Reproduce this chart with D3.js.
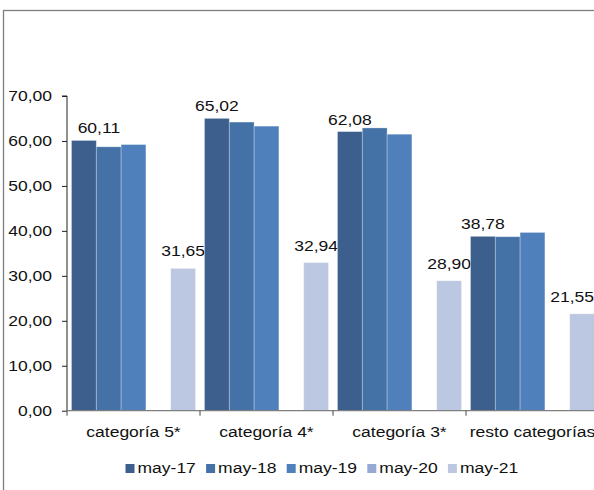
<!DOCTYPE html>
<html>
<head>
<meta charset="utf-8">
<script src="https://cdn.jsdelivr.net/npm/d3@7"></script>
<style>
  body { margin: 0; background: #fff; }
  svg { display: block; font-family: "Liberation Sans", Arial, sans-serif; }
</style>
</head>
<body>
<svg width="594" height="490"></svg>
<script>
// ---- Datos
const categories = ['categoría 5*', 'categoría 4*', 'categoría 3*', 'resto categorías'];
const seriesNames = ['may-17', 'may-18', 'may-19', 'may-20', 'may-21'];
const may17 = [60.11, 65.02, 62.08, 38.78];
const may18 = [58.7, 64.2, 62.9, 38.7];
const may19 = [59.2, 63.3, 61.5, 39.65];
const may20 = [null, null, null, null];
const may21 = [31.65, 32.94, 28.90, 21.55];
const yTicks = [0, 10, 20, 30, 40, 50, 60, 70];
const labelledSeries = ['may-17', 'may-21'];

const colors = ['#3c5f8e', '#4472a7', '#4f80bc', '#95a9d2', '#bcc8e1'];
const seriesValues = [may17, may18, may19, may20, may21];

const rows = categories.map((c, i) => {
    const r = { cat: c };
    seriesNames.forEach((s, j) => r[s] = seriesValues[j][i]);
    return r;
});

const fmt = v => v.toFixed(2).replace('.', ',');

// stretch text horizontally (reference text is wider than normal)
function stretch(sel, k = 1.25) {
    sel.each(function () {
        const len = this.getComputedTextLength();
        d3.select(this).attr('textLength', len * k).attr('lengthAdjust', 'spacingAndGlyphs');
    });
}

const svg = d3.select('svg');

// ---- Marco
svg.append('rect')
    .attr('x', 3.5).attr('y', 10.5)
    .attr('width', 620).attr('height', 500)
    .attr('fill', 'none')
    .attr('stroke', '#7f7f7f')
    .attr('stroke-width', 1.3);

// ---- Escalas
const x0 = 67, step = 133;
const x = d3.scaleBand()
    .domain(categories)
    .range([x0, x0 + step * categories.length])
    .paddingInner(9 / step)
    .paddingOuter(4.5 / step);

const xs = d3.scaleBand()
    .domain(seriesNames)
    .range([0, x.bandwidth()]);

const y = d3.scaleLinear().domain([0, 70]).range([410.7, 96]);

// ---- Barras
const g = svg.append('g');
const groups = g.selectAll('g.cat')
    .data(rows)
    .join('g')
    .attr('class', 'cat')
    .attr('transform', d => `translate(${x(d.cat)},0)`);

groups.selectAll('rect')
    .data(d => seriesNames.map((s, j) => ({ s, j, v: d[s], cat: d.cat })).filter(e => e.v != null))
    .join('rect')
    .attr('x', d => xs(d.s))
    .attr('y', d => y(d.v))
    .attr('width', xs.bandwidth())
    .attr('height', d => y(0) - y(d.v))
    .attr('fill', d => colors[d.j])
    .attr('stroke', '#ffffff')
    .attr('stroke-opacity', 0.35)
    .attr('stroke-width', 0.8);

// ---- Etiquetas de datos (algunas desplazadas como en el original)
const labelShift = { 'categoría 5*|may-17': 15, 'resto categorías|may-21': -10 };
groups.selectAll('text.lbl')
    .data(d => labelledSeries.map(s => ({ s, v: d[s], cat: d.cat })))
    .join('text')
    .attr('class', 'lbl')
    .attr('x', d => xs(d.s) + xs.bandwidth() / 2 + (labelShift[d.cat + '|' + d.s] || 0))
    .attr('y', d => y(d.v) - (d.s === 'may-17' ? 7 : 12))
    .attr('text-anchor', 'middle')
    .attr('font-size', 14)
    .attr('fill', '#111')
    .text(d => fmt(d.v))
    .call(stretch);

// ---- Eje Y
const yAxis = d3.axisLeft(y).tickValues(yTicks).tickFormat(fmt).tickSize(5).tickPadding(10);
const gy = svg.append('g')
    .attr('transform', `translate(${x0},0)`)
    .call(yAxis);
gy.select('.domain').attr('stroke', '#222').attr('d', `M-5,${y(70)}H0V${y(0)}`);
gy.selectAll('.tick line').attr('stroke', '#222');
gy.selectAll('.tick text')
    .attr('font-size', 14)
    .attr('font-family', '"Liberation Sans", Arial, sans-serif')
    .attr('fill', '#111')
    .call(stretch);

// ---- Eje X
const gx = svg.append('g');
gx.append('line')
    .attr('x1', x0).attr('x2', x0 + step * categories.length)
    .attr('y1', y(0)).attr('y2', y(0))
    .attr('stroke', '#7f7f7f').attr('stroke-width', 1.3);
gx.selectAll('line.tk')
    .data(categories)
    .join('line')
    .attr('class', 'tk')
    .attr('x1', d => x(d) - x.step() * x.paddingOuter())
    .attr('x2', d => x(d) - x.step() * x.paddingOuter())
    .attr('y1', y(0)).attr('y2', y(0) + 5)
    .attr('stroke', '#444');
gx.selectAll('text')
    .data(categories)
    .join('text')
    .attr('x', d => x(d) + x.bandwidth() / 2)
    .attr('y', 437)
    .attr('text-anchor', 'middle')
    .attr('font-size', 14)
    .attr('fill', '#111')
    .text(d => d)
    .call(stretch);

// ---- Leyenda
const legend = svg.append('g');
const items = legend.selectAll('g')
    .data(seriesNames)
    .join('g')
    .attr('transform', (d, i) => `translate(${137.5 + i * 80.6},0)`);
items.append('rect')
    .attr('x', -12).attr('y', 464)
    .attr('width', 9).attr('height', 9)
    .attr('fill', (d, i) => colors[i]);
items.append('text')
    .attr('x', 0).attr('y', 473)
    .attr('font-size', 14)
    .attr('fill', '#111')
    .text(d => d)
    .call(stretch);
</script>
</body>
</html>
